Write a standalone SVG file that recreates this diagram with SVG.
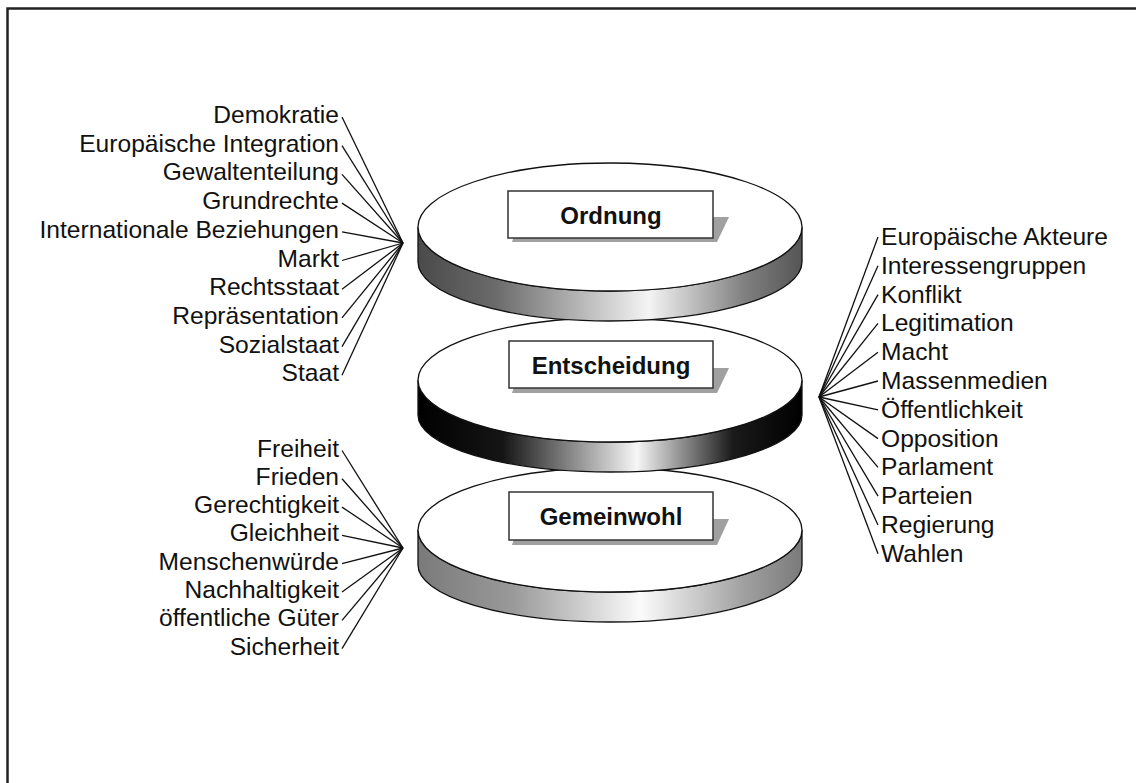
<svg xmlns="http://www.w3.org/2000/svg" width="1136" height="783" viewBox="0 0 1136 783">
<defs>
<linearGradient id="gO" x1="418" y1="0" x2="802" y2="0" gradientUnits="userSpaceOnUse">
<stop offset="0" stop-color="#4a4a4a"/><stop offset="0.2" stop-color="#6a6a6a"/><stop offset="0.6" stop-color="#f4f4f4"/><stop offset="0.85" stop-color="#808080"/><stop offset="1" stop-color="#555"/>
</linearGradient>
<linearGradient id="gE" x1="418" y1="0" x2="802" y2="0" gradientUnits="userSpaceOnUse">
<stop offset="0" stop-color="#000"/><stop offset="0.22" stop-color="#151515"/><stop offset="0.57" stop-color="#f6f6f6"/><stop offset="0.82" stop-color="#1a1a1a"/><stop offset="1" stop-color="#000"/>
</linearGradient>
<linearGradient id="gG" x1="418" y1="0" x2="802" y2="0" gradientUnits="userSpaceOnUse">
<stop offset="0" stop-color="#7a7a7a"/><stop offset="0.25" stop-color="#9a9a9a"/><stop offset="0.58" stop-color="#fbfbfb"/><stop offset="0.85" stop-color="#a0a0a0"/><stop offset="1" stop-color="#7a7a7a"/>
</linearGradient>
</defs>
<style>
.lbl{font-family:"Liberation Sans",Arial,Helvetica,sans-serif;font-size:24.6px;fill:#111}
.l{text-anchor:end}
.ttl{font-family:"Liberation Sans",Arial,Helvetica,sans-serif;font-size:24px;font-weight:bold;fill:#111;text-anchor:middle}
.face{fill:#fff;stroke:#111;stroke-width:1.3}
.side{stroke:#111;stroke-width:1.3}
.box{fill:#fff;stroke:#333;stroke-width:1.5}
.shadow{fill:#a0a0a0}
.conn line{stroke:#111;stroke-width:1.3}
</style>
<rect x="0" y="0" width="1136" height="783" fill="#fff"/>
<rect x="7.5" y="8.5" width="1140" height="790" fill="none" stroke="#222" stroke-width="2.5"/>

<g id="gemeinwohl">
<path class="side" fill="url(#gG)" d="M418,530 A192,62 0 0 0 802,530 L802,565 A192,57 0 0 1 418,565 Z"/>
<ellipse class="face" cx="610" cy="530" rx="192" ry="62"/>
<polygon class="shadow" points="520,519 729,519 717,545 512,545"/>
<rect class="box" x="509" y="492" width="204" height="48"/>
<text class="ttl" x="611" y="524.5">Gemeinwohl</text>
</g>

<g id="entscheidung">
<path class="side" fill="url(#gE)" d="M418,380 A192,62 0 0 0 802,380 L802,415 A192,57 0 0 1 418,415 Z"/>
<ellipse class="face" cx="610" cy="380" rx="192" ry="62"/>
<polygon class="shadow" points="520,368 729,368 717,393 512,393"/>
<rect class="box" x="509" y="341" width="204" height="47"/>
<text class="ttl" x="611" y="373.5">Entscheidung</text>
</g>

<g id="ordnung">
<path class="side" fill="url(#gO)" d="M418,227 A192,64 0 0 0 802,227 L802,262 A192,59 0 0 1 418,262 Z"/>
<ellipse class="face" cx="610" cy="227" rx="192" ry="64"/>
<polygon class="shadow" points="520,217 729,217 717,242 512,242"/>
<rect class="box" x="508" y="191" width="205" height="47"/>
<text class="ttl" x="611" y="223.5">Ordnung</text>
</g>

<g id="connectors" class="conn">
<line x1="342" y1="117" x2="403" y2="243"/>
<line x1="342" y1="145.7" x2="403" y2="243"/>
<line x1="342" y1="174.4" x2="403" y2="243"/>
<line x1="342" y1="203.1" x2="403" y2="243"/>
<line x1="342" y1="231.8" x2="403" y2="243"/>
<line x1="342" y1="260.5" x2="403" y2="243"/>
<line x1="342" y1="289.2" x2="403" y2="243"/>
<line x1="342" y1="317.9" x2="403" y2="243"/>
<line x1="342" y1="346.6" x2="403" y2="243"/>
<line x1="342" y1="375.3" x2="403" y2="243"/>

<line x1="342" y1="450.5" x2="403" y2="548"/>
<line x1="342" y1="478.8" x2="403" y2="548"/>
<line x1="342" y1="507.1" x2="403" y2="548"/>
<line x1="342" y1="535.4" x2="403" y2="548"/>
<line x1="342" y1="563.7" x2="403" y2="548"/>
<line x1="342" y1="592" x2="403" y2="548"/>
<line x1="342" y1="620.3" x2="403" y2="548"/>
<line x1="342" y1="648.6" x2="403" y2="548"/>

<line x1="819" y1="397" x2="878" y2="237"/>
<line x1="819" y1="397" x2="878" y2="265.8"/>
<line x1="819" y1="397" x2="878" y2="294.6"/>
<line x1="819" y1="397" x2="878" y2="323.4"/>
<line x1="819" y1="397" x2="878" y2="352.2"/>
<line x1="819" y1="397" x2="878" y2="381"/>
<line x1="819" y1="397" x2="878" y2="409.8"/>
<line x1="819" y1="397" x2="878" y2="438.6"/>
<line x1="819" y1="397" x2="878" y2="467.4"/>
<line x1="819" y1="397" x2="878" y2="496.2"/>
<line x1="819" y1="397" x2="878" y2="525"/>
<line x1="819" y1="397" x2="878" y2="553.8"/>
</g>

<g id="labels-ordnung" class="lbl l">
<text x="339" y="123">Demokratie</text>
<text x="339" y="151.7">Europäische Integration</text>
<text x="339" y="180.4">Gewaltenteilung</text>
<text x="339" y="209.1">Grundrechte</text>
<text x="339" y="237.8">Internationale Beziehungen</text>
<text x="339" y="266.5">Markt</text>
<text x="339" y="295.2">Rechtsstaat</text>
<text x="339" y="323.9">Repräsentation</text>
<text x="339" y="352.6">Sozialstaat</text>
<text x="339" y="381.3">Staat</text>
</g>

<g id="labels-gemeinwohl" class="lbl l">
<text x="339" y="456.5">Freiheit</text>
<text x="339" y="484.8">Frieden</text>
<text x="339" y="513.1">Gerechtigkeit</text>
<text x="339" y="541.4">Gleichheit</text>
<text x="339" y="569.7">Menschenwürde</text>
<text x="339" y="598">Nachhaltigkeit</text>
<text x="339" y="626.3">öffentliche Güter</text>
<text x="339" y="654.6">Sicherheit</text>
</g>

<g id="labels-entscheidung" class="lbl">
<text x="881" y="245">Europäische Akteure</text>
<text x="881" y="273.8">Interessengruppen</text>
<text x="881" y="302.6">Konflikt</text>
<text x="881" y="331.4">Legitimation</text>
<text x="881" y="360.2">Macht</text>
<text x="881" y="389">Massenmedien</text>
<text x="881" y="417.8">Öffentlichkeit</text>
<text x="881" y="446.6">Opposition</text>
<text x="881" y="475.4">Parlament</text>
<text x="881" y="504.2">Parteien</text>
<text x="881" y="533">Regierung</text>
<text x="881" y="561.8">Wahlen</text>
</g>
</svg>
